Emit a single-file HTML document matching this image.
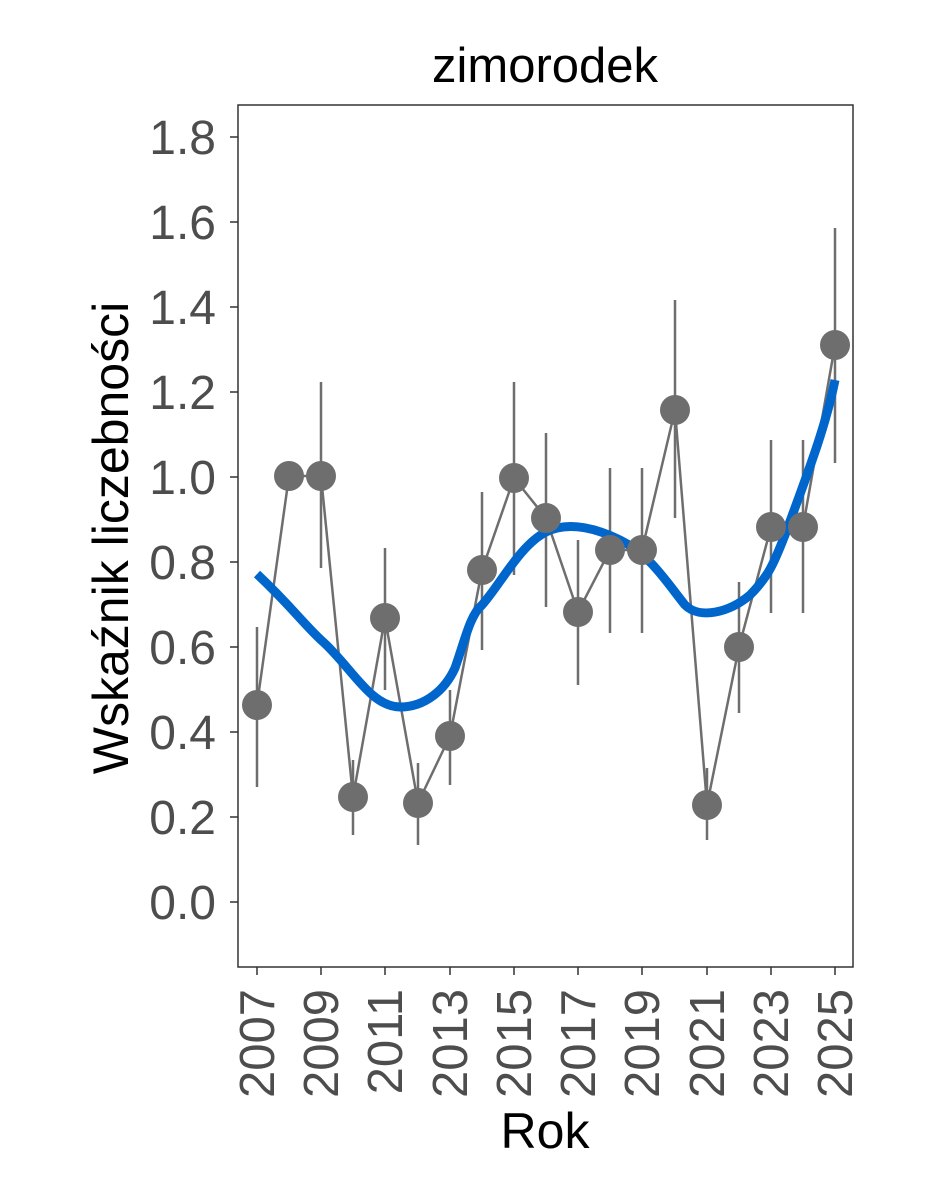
<!DOCTYPE html>
<html><head><style>body{margin:0;background:#fff}</style></head><body>
<svg width="944" height="1181" xmlns="http://www.w3.org/2000/svg" font-family="Liberation Sans, sans-serif">
<rect width="944" height="1181" fill="#fff"/>
<rect x="238" y="105" width="615" height="862" fill="none" stroke="#333" stroke-width="1.5"/>
<g stroke="#333" stroke-width="1.5">
<line x1="230" x2="238" y1="902" y2="902"/><line x1="230" x2="238" y1="817" y2="817"/><line x1="230" x2="238" y1="732" y2="732"/><line x1="230" x2="238" y1="647" y2="647"/><line x1="230" x2="238" y1="562" y2="562"/><line x1="230" x2="238" y1="477" y2="477"/><line x1="230" x2="238" y1="392" y2="392"/><line x1="230" x2="238" y1="307" y2="307"/><line x1="230" x2="238" y1="222" y2="222"/><line x1="230" x2="238" y1="137" y2="137"/>
</g>
<g font-size="48" fill="#4d4d4d" text-anchor="end">
<text x="216" y="919">0.0</text><text x="216" y="834">0.2</text><text x="216" y="749">0.4</text><text x="216" y="664">0.6</text><text x="216" y="579">0.8</text><text x="216" y="494">1.0</text><text x="216" y="409">1.2</text><text x="216" y="324">1.4</text><text x="216" y="239">1.6</text><text x="216" y="154">1.8</text>
</g>
<g stroke="#333" stroke-width="1.5">
<line x1="257" x2="257" y1="967" y2="975"/><line x1="321" x2="321" y1="967" y2="975"/><line x1="385" x2="385" y1="967" y2="975"/><line x1="450" x2="450" y1="967" y2="975"/><line x1="514" x2="514" y1="967" y2="975"/><line x1="578" x2="578" y1="967" y2="975"/><line x1="642" x2="642" y1="967" y2="975"/><line x1="707" x2="707" y1="967" y2="975"/><line x1="771" x2="771" y1="967" y2="975"/><line x1="835" x2="835" y1="967" y2="975"/>
</g>
<g font-size="49" fill="#4d4d4d" text-anchor="end">
<text transform="translate(274,989) rotate(-90)">2007</text><text transform="translate(338,989) rotate(-90)">2009</text><text transform="translate(402,989) rotate(-90)">2011</text><text transform="translate(467,989) rotate(-90)">2013</text><text transform="translate(531,989) rotate(-90)">2015</text><text transform="translate(595,989) rotate(-90)">2017</text><text transform="translate(659,989) rotate(-90)">2019</text><text transform="translate(724,989) rotate(-90)">2021</text><text transform="translate(788,989) rotate(-90)">2023</text><text transform="translate(852,989) rotate(-90)">2025</text>
</g>
<text x="545" y="82" font-size="49" text-anchor="middle" fill="#000">zimorodek</text>
<text x="545" y="1148" font-size="50" text-anchor="middle" fill="#000">Rok</text>
<text transform="translate(128,538) rotate(-90)" font-size="50" text-anchor="middle" fill="#000">Wskaźnik liczebności</text>
<g stroke="#6e6e6e" stroke-width="2.5">
<line x1="257" x2="257" y1="627" y2="787"/><line x1="321" x2="321" y1="382" y2="568"/><line x1="353" x2="353" y1="760" y2="835"/><line x1="385" x2="385" y1="548" y2="690"/><line x1="418" x2="418" y1="763" y2="845"/><line x1="450" x2="450" y1="690" y2="785"/><line x1="482" x2="482" y1="492" y2="650"/><line x1="514" x2="514" y1="382" y2="575"/><line x1="546" x2="546" y1="433" y2="607"/><line x1="578" x2="578" y1="540" y2="685"/><line x1="610" x2="610" y1="468" y2="633"/><line x1="642" x2="642" y1="468" y2="633"/><line x1="675" x2="675" y1="300" y2="518"/><line x1="707" x2="707" y1="768" y2="840"/><line x1="739" x2="739" y1="582" y2="713"/><line x1="771" x2="771" y1="440" y2="613"/><line x1="803" x2="803" y1="440" y2="613"/><line x1="835" x2="835" y1="228" y2="463"/>
</g>
<polyline fill="none" stroke="#6e6e6e" stroke-width="2.5" points="257,705 289,476 321,476 353,797 385,618 418,803 450,736 482,570 514,478 546,518 578,612 610,550 642,550 675,410 707,805 739,647 771,527 803,527 835,345"/>
<path fill="none" stroke="#0066cc" stroke-width="9" d="M257,574 C290,605 300,620 321,640 C350,665 370,707 400,707 C425,707 445,690 455,668 C465,640 470,615 482,605 C500,585 520,545 546,532 C570,520 600,530 620,540 C650,555 665,580 685,605 C700,620 730,612 750,595 C770,575 775,560 785,535 C805,480 825,430 835,380"/>
<g fill="#6e6e6e">
<circle cx="257" cy="705" r="15"/><circle cx="289" cy="476" r="15"/><circle cx="321" cy="476" r="15"/><circle cx="353" cy="797" r="15"/><circle cx="385" cy="618" r="15"/><circle cx="418" cy="803" r="15"/><circle cx="450" cy="736" r="15"/><circle cx="482" cy="570" r="15"/><circle cx="514" cy="478" r="15"/><circle cx="546" cy="518" r="15"/><circle cx="578" cy="612" r="15"/><circle cx="610" cy="550" r="15"/><circle cx="642" cy="550" r="15"/><circle cx="675" cy="410" r="15"/><circle cx="707" cy="805" r="15"/><circle cx="739" cy="647" r="15"/><circle cx="771" cy="527" r="15"/><circle cx="803" cy="527" r="15"/><circle cx="835" cy="345" r="15"/>
</g>
</svg>
</body></html>
